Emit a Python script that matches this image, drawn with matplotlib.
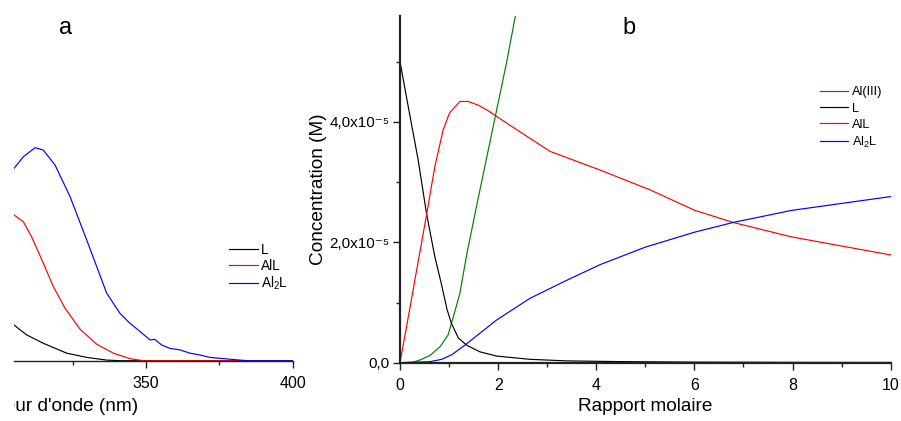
import numpy as np
import matplotlib
matplotlib.use("Agg")
import matplotlib.pyplot as plt
from matplotlib.ticker import MultipleLocator, FuncFormatter
from matplotlib.transforms import Bbox, TransformedBbox

plt.rcParams['font.family'] = ['Liberation Sans', 'DejaVu Sans']
plt.rcParams['mathtext.fontset'] = 'custom'
plt.rcParams['mathtext.rm'] = 'Liberation Sans'
plt.rcParams['mathtext.it'] = 'Liberation Sans:italic'

# ---- panel a : spectres (unités arbitraires) ----
wl_L = [305, 309.3, 315, 323, 329.8, 336.6, 341, 400]
abs_L = [0.119, 0.086, 0.058, 0.025, 0.011, 0.002, 0, 0]

wl_AlL = [305, 308.2, 311, 315, 318.4, 322.4, 327.5, 333.2, 338.9, 344.5, 349, 400]
abs_AlL = [0.486, 0.463, 0.413, 0.325, 0.247, 0.175, 0.105, 0.055, 0.025, 0.007, 0, 0]

wl_Al2L = [305, 308.2, 312.2, 315, 319, 324.1, 329.8, 336.6, 341.1, 344.5, 348, 351.4,
           353, 355.4, 358.2, 361.6, 365, 368.4, 371.8, 375.2, 378.6, 382, 385, 400]
abs_Al2L = [0.641, 0.680, 0.710, 0.702, 0.652, 0.547, 0.402, 0.225, 0.158, 0.125, 0.097, 0.069,
            0.071, 0.052, 0.041, 0.036, 0.025, 0.019, 0.011, 0.008, 0.005, 0.002, 0, 0]

# ---- panel b : concentrations (x1e-5 M) vs rapport molaire ----
r_Al = [0, 0.27, 0.41, 0.61, 0.82, 0.98, 1.1, 1.22, 1.36, 1.56, 1.77, 1.97, 2.17, 2.36]
c_Al = [0, 0.01, 0.045, 0.12, 0.27, 0.46, 0.8, 1.15, 1.8, 2.6, 3.42, 4.2, 4.98, 5.8]

r_L = [0, 0.23, 0.37, 0.54, 0.71, 0.84, 0.96, 1.05, 1.19, 1.36, 1.63, 1.97, 2.65, 3.4,
       4.5, 6, 8, 10]
c_L = [5.0, 3.98, 3.37, 2.48, 1.76, 1.32, 0.88, 0.65, 0.41, 0.29, 0.18, 0.11, 0.056, 0.03,
       0.018, 0.01, 0.006, 0.004]

r_AlL = [0, 0.2, 0.37, 0.54, 0.71, 0.88, 1.01, 1.22, 1.39, 1.59, 1.77, 2.38, 3.06, 4.08,
         5.1, 6.01, 6.79, 7.98, 10]
c_AlL = [0, 0.9, 1.68, 2.45, 3.26, 3.87, 4.15, 4.34, 4.34, 4.28, 4.20, 3.87, 3.51, 3.2,
         2.87, 2.53, 2.33, 2.09, 1.79]

r_Al2L = [0, 0.61, 0.85, 1.05, 1.32, 1.63, 1.97, 2.65, 3.4, 4.08, 5.0, 6.01, 6.79, 7.98, 10]
c_Al2L = [0, 0.017, 0.056, 0.13, 0.29, 0.49, 0.71, 1.07, 1.37, 1.63, 1.92, 2.17, 2.33, 2.53, 2.76]

W, H = 901, 421
fig = plt.figure(figsize=(W / 100, H / 100), dpi=100)

lw = 0.85
axc = '#222222'

# ===================== panel a =====================
ax_a = fig.add_axes([14 / W, (H - 360.7) / H, 278.7 / W, 344.7 / H])
ax_a.plot(wl_L, abs_L, color='black', lw=lw, label='L')
ax_a.plot(wl_AlL, abs_AlL, color='#ff0000', lw=lw, label='AlL')
ax_a.plot(wl_Al2L, abs_Al2L, color='#0000ff', lw=lw, label=r'Al$_2$L')
ax_a.set_xlim(305, 400)
ax_a.set_ylim(0, 1.149)
for s in ['left', 'right', 'top']:
    ax_a.spines[s].set_visible(False)
ax_a.spines['bottom'].set_linewidth(1.0)
ax_a.spines['bottom'].set_color(axc)
ax_a.set_yticks([])
ax_a.xaxis.set_major_locator(MultipleLocator(50))
ax_a.xaxis.set_minor_locator(MultipleLocator(25))
ax_a.tick_params(axis='x', which='major', length=5, width=1, direction='out', pad=6,
                 labelsize=11.5, color=axc)
ax_a.tick_params(axis='x', which='minor', length=3, width=1, direction='out', color=axc)
ax_a.set_xlabel("Longueur d'onde (nm)", fontsize=13.7, ha='right')
ax_a.xaxis.set_label_coords((138.5 - 14) / 278.7, -0.108)
# the original panel is cut at the left edge
ax_a.xaxis.label.set_clip_box(TransformedBbox(Bbox([[14 / W, 0], [1, 1]]), fig.transFigure))
ax_a.xaxis.label.set_clip_on(True)
ax_a.legend(loc='upper left', bbox_to_anchor=(229 / W, 1 - 243 / H),
            bbox_transform=fig.transFigure, frameon=False, fontsize=9.8,
            handlelength=2.15, handletextpad=0.2, labelspacing=0.12,
            borderpad=0, borderaxespad=0)

# ===================== panel b =====================
ax_b = fig.add_axes([400 / W, (H - 362.7) / H, 490.7 / W, 346.7 / H])
ax_b.plot(r_Al, np.array(c_Al) * 1e-5, color='#008000', lw=lw, label='Al(III)')
ax_b.plot(r_L, np.array(c_L) * 1e-5, color='black', lw=lw, label='L')
ax_b.plot(r_AlL, np.array(c_AlL) * 1e-5, color='#ff0000', lw=lw, label='AlL')
ax_b.plot(r_Al2L, np.array(c_Al2L) * 1e-5, color='#0000ff', lw=lw, label=r'Al$_2$L')
ax_b.set_xlim(0, 10)
ax_b.set_ylim(0, 5.76e-5)
for s in ['right', 'top']:
    ax_b.spines[s].set_visible(False)
for s in ['left', 'bottom']:
    ax_b.spines[s].set_linewidth(1.6)
    ax_b.spines[s].set_color(axc)
ax_b.xaxis.set_major_locator(MultipleLocator(2))
ax_b.xaxis.set_minor_locator(MultipleLocator(1))
ax_b.yaxis.set_major_locator(MultipleLocator(2e-5))
ax_b.yaxis.set_minor_locator(MultipleLocator(1e-5))


def conc_fmt(v, pos):
    m = v / 1e-5
    if abs(m) < 1e-9:
        return '0,0'
    return f'{m:.1f}'.replace('.', ',') + 'x10\u207b\u2075'


ax_b.yaxis.set_major_formatter(FuncFormatter(conc_fmt))
ax_b.tick_params(which='major', length=5, width=1, direction='out', labelsize=11.5,
                 color=axc)
ax_b.tick_params(which='minor', length=3, width=1, direction='out', color=axc)
ax_b.tick_params(axis='x', which='major', pad=6)
ax_b.tick_params(axis='y', which='major', pad=2.5, labelsize=11)
ax_b.set_xlabel('Rapport molaire', fontsize=13.7)
ax_b.xaxis.set_label_coords(0.5, -0.102)
ax_b.set_ylabel('Concentration (M)', fontsize=13.7)
ax_b.yaxis.set_label_coords(-0.148, 0.5)
ax_b.legend(loc='upper left', bbox_to_anchor=(820 / W, 1 - 86.5 / H),
            bbox_transform=fig.transFigure, frameon=False, fontsize=9.2,
            handlelength=2.2, handletextpad=0.27, labelspacing=0.32,
            borderpad=0, borderaxespad=0)

# panel letters
fig.text(66 / W, 1 - 34 / H, 'a', fontsize=17, ha='center', va='baseline')
fig.text(629 / W, 1 - 34 / H, 'b', fontsize=17, ha='center', va='baseline')

fig.savefig('out.png', dpi=100)
